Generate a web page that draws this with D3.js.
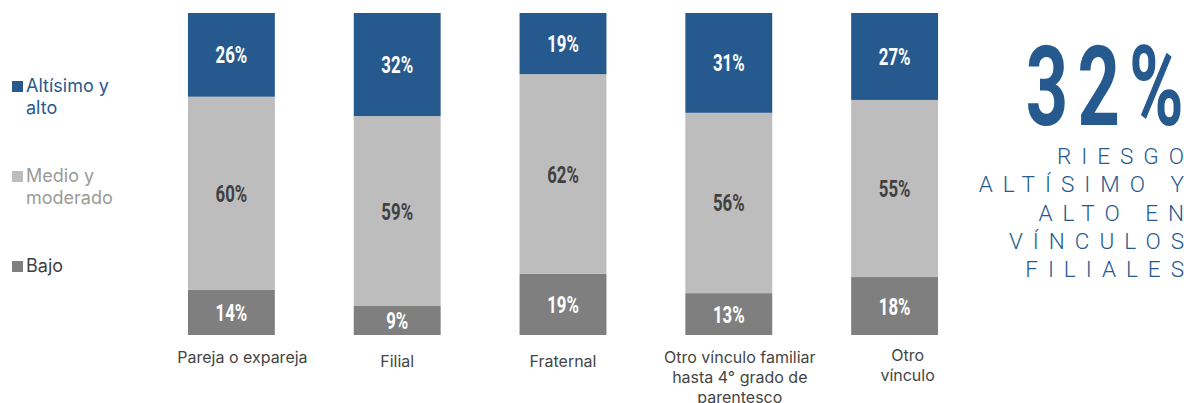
<!DOCTYPE html>
<html>
<head>
<meta charset="utf-8">
<script src="https://cdn.jsdelivr.net/npm/d3@7"></script>
<style>
  body { margin: 0; background: #fff; }
  svg { display: block; }
</style>
</head>
<body>
<div class="chart"></div>
<script>
// categories and values (percent)
var categories = ["Pareja o expareja", "Filial", "Fraternal", "Otro vínculo familiar hasta 4° grado de parentesco", "Otro vínculo"];
var categoryLines = [
  ["Pareja o expareja"],
  ["Filial"],
  ["Fraternal"],
  ["Otro vínculo familiar", "hasta 4° grado de", "parentesco"],
  ["Otro", "vínculo"]
];
var altoValues = [26, 32, 19, 31, 27];
var medioValues = [60, 59, 62, 56, 55];
var bajoValues = [14, 9, 19, 13, 18];
var seriesNames = ["Altísimo y alto", "Medio y moderado", "Bajo"];
var legendLines = [["Altísimo y", "alto"], ["Medio y", "moderado"], ["Bajo"]];
var bigNumber = "32%";
var bigCaption = ["RIESGO", "ALTÍSIMO Y", "ALTO EN", "VÍNCULOS", "FILIALES"];

// layout tweaks for the category labels (baseline of first line, x shift)
var labelBaseline = [363, 367, 367, 363, 361];
var labelShift = [11, 0, 0, 11, 13];

var colors = { "Altísimo y alto": "#265a8f", "Medio y moderado": "#bdbdbd", "Bajo": "#7f7f7f" };
var labelColors = { "Altísimo y alto": "#ffffff", "Medio y moderado": "#404040", "Bajo": "#ffffff" };
var legendText = { "Altísimo y alto": "#265a8f", "Medio y moderado": "#9a9a9a", "Bajo": "#404040" };

var svgWidth = 1184, svgHeight = 403;

var svg = d3.select(".chart")
  .append("svg")
  .attr("width", svgWidth)
  .attr("height", svgHeight);

// build table for stacking
var table = categories.map(function(c, i) {
  return { cat: c, "Altísimo y alto": altoValues[i], "Medio y moderado": medioValues[i], "Bajo": bajoValues[i] };
});

var stack = d3.stack().keys(["Bajo", "Medio y moderado", "Altísimo y alto"]);
var layers = stack(table);

var x = d3.scaleBand()
  .domain(categories)
  .range([148.5, 977.5])
  .paddingInner(0.476)
  .paddingOuter(0.238);

var y = d3.scaleLinear()
  .domain([0, 100])
  .range([335, 13]);

// condensed bold label helper
function condensed(g, px, py, txt, size, fill, sx) {
  g.append("text")
    .attr("transform", "translate(" + px + "," + py + ") scale(" + sx + ",1)")
    .attr("text-anchor", "middle")
    .style("font-family", "Roboto, 'DejaVu Sans', sans-serif")
    .style("font-weight", "bold")
    .style("font-size", size + "px")
    .attr("fill", fill)
    .text(txt);
}

var bars = svg.append("g");

layers.forEach(function(layer) {
  var key = layer.key;
  bars.selectAll(null)
    .data(layer)
    .enter()
    .append("rect")
    .attr("x", function(d) { return x(d.data.cat); })
    .attr("y", function(d) { return y(d[1]); })
    .attr("width", x.bandwidth())
    .attr("height", function(d) { return y(d[0]) - y(d[1]); })
    .attr("fill", colors[key]);

  layer.forEach(function(d) {
    var cx = x(d.data.cat) + x.bandwidth() / 2;
    var cy = (y(d[0]) + y(d[1])) / 2 + 8.5;
    condensed(bars, cx, cy, d.data[key] + "%", 24, labelColors[key], 0.7);
  });
});

// category labels
var xl = svg.append("g");
categoryLines.forEach(function(lines, i) {
  var cx = x(categories[i]) + x.bandwidth() / 2 + labelShift[i];
  var t = xl.append("text")
    .attr("text-anchor", "middle")
    .style("font-family", "Inter, 'Noto Sans', sans-serif")
    .style("font-size", "16px")
    .attr("fill", "#454545");
  lines.forEach(function(l, j) {
    t.append("tspan")
      .attr("x", cx)
      .attr("y", labelBaseline[i] + j * 20)
      .text(l);
  });
});

// legend
var legendY = [92, 182, 272];
var lg = svg.append("g");
seriesNames.forEach(function(name, i) {
  lg.append("rect")
    .attr("x", 12)
    .attr("y", legendY[i] - 11)
    .attr("width", 11)
    .attr("height", 11)
    .attr("fill", colors[name]);
  var t = lg.append("text")
    .style("font-family", "Inter, 'Noto Sans', sans-serif")
    .style("font-size", "18px")
    .attr("fill", legendText[name]);
  legendLines[i].forEach(function(l, j) {
    t.append("tspan")
      .attr("x", 26)
      .attr("y", legendY[i] + j * 22)
      .text(l);
  });
});

// big callout
var callout = svg.append("g");
callout.append("text")
  .attr("transform", "translate(1193,125) scale(0.66,1)")
  .attr("text-anchor", "end")
  .style("font-family", "Roboto, 'DejaVu Sans', sans-serif")
  .style("font-weight", "bold")
  .style("font-size", "112px")
  .style("letter-spacing", "14px")
  .attr("fill", "#265a8f")
  .text(bigNumber);

bigCaption.forEach(function(l, j) {
  callout.append("text")
    .attr("x", 1194)
    .attr("y", 164 + j * 28.3)
    .attr("text-anchor", "end")
    .style("font-family", "Roboto, sans-serif")
    .style("font-weight", 300)
    .style("font-size", "22.5px")
    .style("letter-spacing", "10px")
    .attr("fill", "#265a8f")
    .text(l);
});
</script>
</body>
</html>
